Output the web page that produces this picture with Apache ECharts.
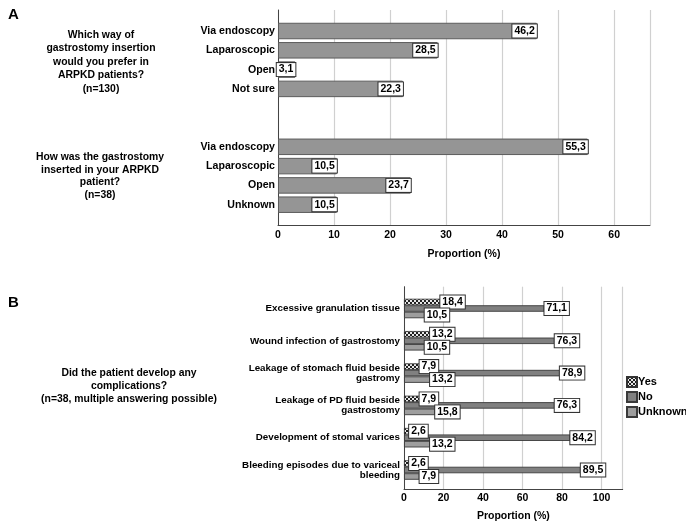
<!DOCTYPE html>
<html>
<head>
<meta charset="utf-8">
<script src="https://cdn.jsdelivr.net/npm/echarts@6/dist/echarts.min.js"></script>
<style>html,body{margin:0;padding:0;background:#fff}#c{width:686px;height:528px}</style>
</head>
<body>
<div id="c"></div>
<script>
// ---- Data ----
const prefCats = ['Via endoscopy', 'Laparoscopic', 'Open', 'Not sure'];
const prefVals = [46.2, 28.5, 3.1, 22.3];
const howCats = ['Via endoscopy', 'Laparoscopic', 'Open', 'Unknown'];
const howVals = [55.3, 10.5, 23.7, 10.5];
const qPref = 'Which way of\ngastrostomy insertion\nwould you prefer in\nARPKD patients?\n(n=130)';
const qHow = 'How was the gastrostomy\ninserted in your ARPKD\npatient?\n(n=38)';

const compCats = ['Excessive granulation tissue', 'Wound infection of gastrostomy',
  'Leakage of stomach fluid beside\ngastromy', 'Leakage of PD fluid beside\ngastrostomy',
  'Development of stomal varices', 'Bleeding episodes due to variceal\nbleeding'];
const yesVals = [18.4, 13.2, 7.9, 7.9, 2.6, 2.6];
const noVals = [71.1, 76.3, 78.9, 76.3, 84.2, 89.5];
const unkVals = [10.5, 10.5, 13.2, 15.8, 13.2, 7.9];
const qComp = 'Did the patient develop any\ncomplications?\n(n=38, multiple answering possible)';
const xTicksA = [0, 10, 20, 30, 40, 50, 60];
const xTicksB = [0, 20, 40, 60, 80, 100];

// ---- Build ----
const FONT = '"Liberation Sans", Arial, sans-serif';
const blanks = [' ', '  '];
const catsA = prefCats.concat(blanks, howCats);
const valsA = prefVals.concat(blanks.map(() => null), howVals);

function fmt(v) { return String(v).replace('.', ','); }

const pc = document.createElement('canvas');
pc.width = 4; pc.height = 4;
const g = pc.getContext('2d');
g.fillStyle = '#e8e8e8'; g.fillRect(0, 0, 4, 4);
g.fillStyle = '#202020';
g.fillRect(0, 0, 2, 2); g.fillRect(2, 2, 2, 2);

const boxLabel = {
  show: true, formatter: p => fmt(p.value),
  backgroundColor: '#fff', borderColor: '#333', borderWidth: 1,
  padding: [1, 2, 0, 2], color: '#000', fontWeight: 'bold', fontFamily: FONT,
  fontSize: 10.5, lineHeight: 12, distance: 0
};
const axisTxt = { color: '#000', fontWeight: 'bold', fontSize: 10.5, fontFamily: FONT };
const hiddenX = (gi, max) => ({ gridIndex: gi, type: 'value', min: 0, max: max, show: false });

const maxA = 66.4, maxB = 110.7;
const option = {
  animation: false,
  backgroundColor: '#fff',
  textStyle: { fontFamily: FONT },
  grid: [
    { left: 278, top: 10, width: 372, height: 215 },          // frame A
    { left: 278, top: 21.35, width: 372, height: 193 },       // bars A
    { left: 404, top: 286.7, width: 218.7, height: 202.3 },   // frame B
    { left: 404, top: 292.35, width: 218.7, height: 193.8 }   // bars B
  ],
  xAxis: [
    { gridIndex: 0, type: 'value', min: 0, max: maxA, interval: 10,
      axisLine: { show: true, lineStyle: { color: '#444', width: 1 } },
      axisTick: { show: false },
      axisLabel: Object.assign({ margin: 5, customValues: xTicksA }, axisTxt),
      splitLine: { show: true, lineStyle: { color: '#d0d0d0', width: 1.2 } },
      name: 'Proportion (%)', nameLocation: 'middle', nameGap: 24, nameTextStyle: axisTxt },
    hiddenX(1, maxA),
    { gridIndex: 2, type: 'value', min: 0, max: maxB, interval: 20,
      axisLine: { show: true, lineStyle: { color: '#444', width: 1 } },
      axisTick: { show: false },
      axisLabel: Object.assign({ margin: 4, customValues: xTicksB }, axisTxt),
      splitLine: { show: true, lineStyle: { color: '#d0d0d0', width: 1.2 } },
      name: 'Proportion (%)', nameLocation: 'middle', nameGap: 22, nameTextStyle: axisTxt },
    hiddenX(3, maxB)
  ],
  yAxis: [
    { gridIndex: 0, type: 'value', min: 0, max: 1,
      axisLine: { show: true, onZero: false, lineStyle: { color: '#444', width: 1 } },
      axisTick: { show: false }, splitLine: { show: false }, axisLabel: { show: false } },
    { gridIndex: 1, type: 'category', inverse: true, data: catsA,
      axisLine: { show: false }, axisTick: { show: false }, splitLine: { show: false },
      axisLabel: { margin: 3, color: '#000', fontWeight: 'bold', fontSize: 10.6, fontFamily: FONT } },
    { gridIndex: 2, type: 'value', min: 0, max: 1,
      axisLine: { show: true, onZero: false, lineStyle: { color: '#444', width: 1 } },
      axisTick: { show: false }, splitLine: { show: false }, axisLabel: { show: false } },
    { gridIndex: 3, type: 'category', inverse: true, data: compCats,
      axisLine: { show: false }, axisTick: { show: false }, splitLine: { show: false },
      axisLabel: { margin: 4, color: '#000', fontWeight: 'bold', fontSize: 9.8, lineHeight: 10,
        fontFamily: FONT, align: 'right' } }
  ],
  legend: {
    left: 621, top: 371, orient: 'vertical', itemWidth: 10, itemHeight: 10, itemGap: 3,
    icon: 'rect', data: ['Yes', 'No', 'Unknown'],
    textStyle: { color: '#000', fontWeight: 'bold', fontSize: 11, fontFamily: FONT, padding: [0, 0, 0, -4] }
  },
  series: [
    { type: 'bar', name: 'Insertion', xAxisIndex: 1, yAxisIndex: 1, barWidth: 16.5,
      data: valsA,
      itemStyle: { color: '#959595', borderColor: '#5c5c5c', borderWidth: 1 },
      label: Object.assign({}, boxLabel, { position: 'insideRight' }) },
    { type: 'bar', name: 'Yes', xAxisIndex: 3, yAxisIndex: 3, barWidth: 6.5, barGap: '0%',
      data: yesVals,
      itemStyle: { color: { image: pc, repeat: 'repeat' }, borderColor: '#333', borderWidth: 0.8 },
      label: Object.assign({}, boxLabel, { position: 'right' }) },
    { type: 'bar', name: 'No', xAxisIndex: 3, yAxisIndex: 3, barWidth: 6.5, barGap: '0%',
      data: noVals,
      itemStyle: { color: '#808080', borderColor: '#3a3a3a', borderWidth: 0.9 },
      label: Object.assign({}, boxLabel, { position: 'right' }) },
    { type: 'bar', name: 'Unknown', xAxisIndex: 3, yAxisIndex: 3, barWidth: 6.5, barGap: '0%',
      data: unkVals,
      itemStyle: { color: '#9e9e9e', borderColor: '#3a3a3a', borderWidth: 0.9 },
      label: Object.assign({}, boxLabel, { position: 'right' }) }
  ],
  graphic: [
    { type: 'text', style: { text: 'A', x: 8, y: 7, font: 'bold 15px ' + FONT, fill: '#000' } },
    { type: 'text', style: { text: 'B', x: 8, y: 295, font: 'bold 15px ' + FONT, fill: '#000' } },
    { type: 'text', style: { text: qPref, x: 101, y: 28, align: 'center', verticalAlign: 'top',
      font: 'bold 10.4px ' + FONT, lineHeight: 13.5, fill: '#000' } },
    { type: 'text', style: { text: qHow, x: 100, y: 151, align: 'center', verticalAlign: 'top',
      font: 'bold 10.4px ' + FONT, lineHeight: 12.5, fill: '#000' } },
    { type: 'text', style: { text: qComp, x: 129, y: 367, align: 'center', verticalAlign: 'top',
      font: 'bold 10.4px ' + FONT, lineHeight: 13, fill: '#000' } }
  ]
};
const chart = echarts.init(document.getElementById('c'), null, { renderer: 'canvas' });
chart.setOption(option);
</script>
</body>
</html>
